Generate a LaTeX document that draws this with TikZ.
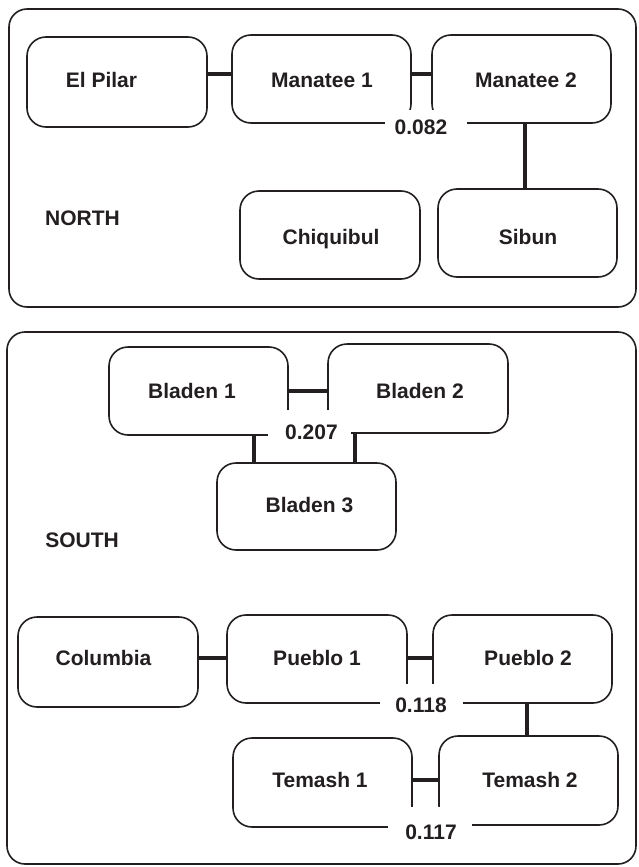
\documentclass[tikz,border=0pt]{standalone}
\usepackage{fontspec}
\setmainfont{Liberation Sans}
\definecolor{ink}{RGB}{35,31,32}
\begin{document}
\begin{tikzpicture}[x=1pt,y=-1pt,
  frame/.style={draw=ink,line width=1.6pt,rounded corners=18pt},
  box/.style={draw=ink,line width=1.6pt,rounded corners=19pt,rectangle,inner sep=0pt,outer sep=0pt},
  conn/.style={draw=ink,line width=3.2pt},
  txt/.style={anchor=base,inner sep=0pt,text=ink,font=\fontsize{21}{25}\selectfont\bfseries},
  gap/.style={fill=white,draw=none,inner sep=0pt,rectangle},
]
\useasboundingbox (0,0) rectangle (638,867);
\fill[white] (0,0) rectangle (638,867);

% frames
\draw[frame] (9,9) rectangle (636,307);
\draw[frame] (7,332) rectangle (636,864);

% NORTH boxes
\node[box,minimum width=180pt,minimum height=90pt] (elpilar) at (117,82) {};
\node[box,minimum width=179pt,minimum height=88pt] (manatee1) at (321.5,79) {};
\node[box,minimum width=179pt,minimum height=88pt] (manatee2) at (521.5,79) {};
\node[box,minimum width=180pt,minimum height=88pt] (chiquibul) at (330,235) {};
\node[box,minimum width=179pt,minimum height=88pt] (sibun) at (527.5,233) {};

% SOUTH boxes
\node[box,minimum width=179pt,minimum height=88pt] (bladen1) at (198.5,391) {};
\node[box,minimum width=180pt,minimum height=89pt] (bladen2) at (418,388.5) {};
\node[box,minimum width=179pt,minimum height=87pt] (bladen3) at (306.5,506.5) {};
\node[box,minimum width=180pt,minimum height=90pt] (columbia) at (108,662) {};
\node[box,minimum width=180pt,minimum height=88pt] (pueblo1) at (317,659) {};
\node[box,minimum width=179pt,minimum height=88pt] (pueblo2) at (522.5,659) {};
\node[box,minimum width=179pt,minimum height=89pt] (temash1) at (322.5,782.5) {};
\node[box,minimum width=179pt,minimum height=89pt] (temash2) at (528.5,780.5) {};

% connectors
\draw[conn] ([yshift=8pt]elpilar.east) -- ([yshift=8pt]elpilar.east -| manatee1.west);
\draw[conn] ([yshift=5pt]manatee1.east) -- ([yshift=5pt]manatee1.east -| manatee2.west);
\draw[conn] ([xshift=3.5pt]manatee2.south) -- ([xshift=3.5pt]manatee2.south |- sibun.north);
\draw[conn] (bladen1.east) -- (bladen1.east -| bladen2.west);
\draw[conn] ([xshift=55.5pt]bladen1.south) -- ([xshift=55.5pt]bladen1.south |- bladen3.north);
\draw[conn] ([xshift=-63pt]bladen2.south) -- ([xshift=-63pt]bladen2.south |- bladen3.north);
\draw[conn] ([yshift=4pt]columbia.east) -- ([yshift=4pt]columbia.east -| pueblo1.west);
\draw[conn] ([yshift=1pt]pueblo1.east) -- ([yshift=1pt]pueblo1.east -| pueblo2.west);
\draw[conn] ([xshift=4.5pt]pueblo2.south) -- ([xshift=4.5pt]pueblo2.south |- temash2.north);
\draw[conn] ([yshift=2.5pt]temash1.east) -- ([yshift=2.5pt]temash1.east -| temash2.west);

% white gaps behind the numbers
\node[gap,minimum width=82pt,minimum height=34pt] (g082) at (426,127) {};
\node[gap,minimum width=83pt,minimum height=44pt] (g207) at (309.5,432) {};
\node[gap,minimum width=83pt,minimum height=42pt] (g118) at (421.5,705) {};
\node[gap,minimum width=84pt,minimum height=50pt] (g117) at (430,832) {};

% texts
\node[txt] (t-elpilar) at (101.5,87.5) {El Pilar};
\node[txt] (t-manatee1) at (322,87.5) {Manatee 1};
\node[txt] (t-manatee2) at (526,87.5) {Manatee 2};
\node[txt] (t-chiquibul) at (331,244.5) {Chiquibul};
\node[txt] (t-sibun) at (528,244.5) {Sibun};
\node[txt] (t-north) at (82.5,225.5) {NORTH};
\node[txt] (t-082) at (421,134.5) {0.082};

\node[txt] (t-bladen1) at (192,398.5) {Bladen 1};
\node[txt] (t-bladen2) at (420,398.5) {Bladen 2};
\node[txt] (t-bladen3) at (309.5,512.5) {Bladen 3};
\node[txt] (t-207) at (311.5,439.5) {0.207};
\node[txt] (t-south) at (82,547.5) {SOUTH};
\node[txt] (t-columbia) at (103.5,665.5) {Columbia};
\node[txt] (t-pueblo1) at (317,665.5) {Pueblo 1};
\node[txt] (t-pueblo2) at (528,665.5) {Pueblo 2};
\node[txt] (t-118) at (421,712.5) {0.118};
\node[txt] (t-temash1) at (320,787.5) {Temash 1};
\node[txt] (t-temash2) at (530,787.5) {Temash 2};
\node[txt] (t-117) at (431,839.5) {0.117};
\end{tikzpicture}
\end{document}
